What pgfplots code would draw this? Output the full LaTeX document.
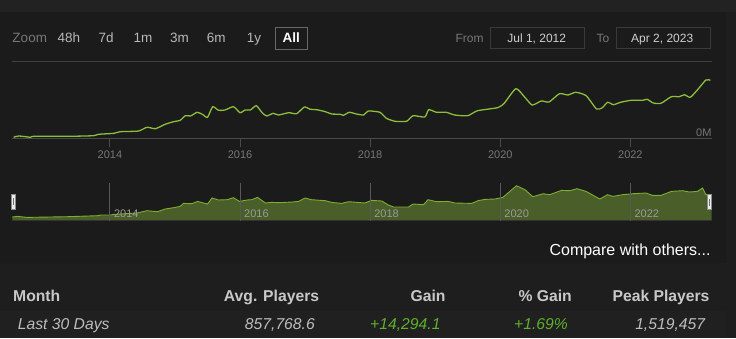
\documentclass[border=0pt]{standalone}
\usepackage{pgfplots}
\pgfplotsset{compat=1.18}
\usepackage{pgfplotstable}
\usepackage{fontspec}
\setmainfont{Liberation Sans}
\definecolor{outerbg}{HTML}{1E1E1E}
\definecolor{topbg}{HTML}{222222}
\definecolor{panelbg}{HTML}{1B1B1B}
\definecolor{tablebg}{HTML}{1E1E1E}
\definecolor{rowbg}{HTML}{202020}
\definecolor{gridc}{HTML}{404040}
\definecolor{axisc}{HTML}{4A4A4A}
\definecolor{labelc}{HTML}{777777}
\definecolor{btnc}{HTML}{B8B8B8}
\definecolor{linec}{HTML}{8CBE3C}
\definecolor{navfill}{HTML}{4A5E2A}
\definecolor{navline}{HTML}{7CAF30}
\definecolor{navgrid}{HTML}{585858}
\definecolor{navlab}{HTML}{9A9A9A}
\definecolor{headc}{HTML}{C8C8C8}
\definecolor{valc}{HTML}{BDBDBD}
\definecolor{gainc}{HTML}{5DB02C}
\definecolor{boxc}{HTML}{3A3A3A}
\definecolor{allbox}{HTML}{666666}
\definecolor{boxtext}{HTML}{CFCFCF}

\pgfplotstableread{
year players
2012.52 15
2012.60 34
2012.78 15
2012.83 29
2013.35 29
2013.75 38
2013.83 59
2014.06 73
2014.16 97
2014.44 107
2014.57 162
2014.70 141
2014.85 206
2014.98 244
2015.08 264
2015.16 332
2015.24 328
2015.34 382
2015.42 353
2015.50 308
2015.58 464
2015.67 411
2015.77 416
2015.90 464
2016.00 376
2016.08 416
2016.16 416
2016.25 479
2016.34 376
2016.41 328
2016.51 367
2016.59 342
2016.75 376
2016.87 361
2016.99 460
2017.08 426
2017.18 420
2017.31 391
2017.41 357
2017.54 353
2017.59 338
2017.68 382
2017.79 357
2017.90 342
2017.97 401
2018.15 382
2018.25 294
2018.38 250
2018.56 250
2018.66 332
2018.84 313
2018.90 420
2019.02 382
2019.17 382
2019.30 342
2019.50 332
2019.65 405
2019.96 450
2020.06 514
2020.24 729
2020.37 611
2020.49 489
2020.63 548
2020.75 533
2020.91 655
2021.04 636
2021.16 676
2021.32 626
2021.48 430
2021.57 450
2021.65 529
2021.74 494
2021.85 529
2022.01 558
2022.19 558
2022.26 573
2022.35 519
2022.47 514
2022.63 611
2022.75 611
2022.83 640
2022.92 602
2023.03 710
2023.16 856
2023.23 852
}\mainData

\pgfplotstableread{
year level
2012.50 3.7
2012.58 4.3
2012.73 3.3
2013.35 4.0
2013.81 5.0
2013.86 5.7
2014.01 5.7
2014.06 6.3
2014.42 7.7
2014.57 10.0
2014.73 9.0
2014.85 11.7
2014.98 13.0
2015.08 14.3
2015.13 17.3
2015.26 17.0
2015.35 19.3
2015.42 18.0
2015.50 16.7
2015.57 22.7
2015.67 20.7
2015.80 21.0
2015.90 23.0
2015.99 19.3
2016.11 20.7
2016.18 21.0
2016.27 23.3
2016.39 17.7
2016.49 18.3
2016.59 18.0
2016.80 18.7
2016.90 19.3
2017.00 22.7
2017.10 21.0
2017.31 20.0
2017.41 18.3
2017.56 17.3
2017.67 19.0
2017.92 17.7
2018.02 20.3
2018.18 19.7
2018.28 15.7
2018.36 13.7
2018.59 13.7
2018.66 16.7
2018.82 16.0
2018.89 21.0
2019.02 19.0
2019.20 19.3
2019.30 17.7
2019.56 17.3
2019.66 20.0
2019.76 21.3
2019.92 21.7
2020.04 23.3
2020.25 35.0
2020.38 31.0
2020.50 24.0
2020.66 27.0
2020.76 26.0
2020.94 30.3
2021.07 30.0
2021.18 32.0
2021.32 29.3
2021.53 21.7
2021.65 26.0
2021.73 24.3
2021.88 26.0
2022.04 27.0
2022.24 27.7
2022.34 25.3
2022.47 25.3
2022.63 29.3
2022.80 30.0
2022.91 28.7
2023.03 29.3
2023.11 32.7
2023.16 26.0
2023.25 26.0
}\navData

\begin{document}
\begin{tikzpicture}
\useasboundingbox (0pt,0pt) rectangle (736pt,338pt);
\begin{scope}[x=1pt,y=1pt]
% backgrounds
\fill[outerbg] (0,0) rectangle (736,338);
\fill[topbg] (0,338-12) rectangle (736,338);
\fill[panelbg] (0,338-263) rectangle (726,338-12);
\fill[tablebg] (0,0) rectangle (726,338-273);
\fill[rowbg] (0,0) rectangle (726,338-311);

% zoom buttons
\begin{scope}[every node/.style={inner sep=0pt, font=\fontsize{13.5}{16}\selectfont}]
\node[anchor=base west, text=labelc] at (12.3,338-42.5) {Zoom};
\node[anchor=base west, text=btnc] at (57.3,338-42.5) {48h};
\node[anchor=base west, text=btnc] at (98.3,338-42.5) {7d};
\node[anchor=base west, text=btnc] at (133.3,338-42.5) {1m};
\node[anchor=base west, text=btnc] at (170,338-42.5) {3m};
\node[anchor=base west, text=btnc] at (206.7,338-42.5) {6m};
\node[anchor=base west, text=btnc] at (246.7,338-42.5) {1y};
\draw[allbox, line width=0.9pt] (275.3,338-27.3) rectangle (307.3,338-49.3);
\node[anchor=base, text=white, font=\fontsize{13.5}{16}\selectfont\bfseries] at (291.3,338-42.5) {All};
\end{scope}

% date range
\begin{scope}[every node/.style={inner sep=0pt, font=\fontsize{12}{14}\selectfont}]
\node[anchor=base west, text=labelc] at (455.3,338-42.5) {From};
\draw[boxc, line width=0.9pt] (490.3,338-27.3) rectangle (584.7,338-48.3);
\node[anchor=base, text=boxtext] at (536.7,338-42.5) {Jul 1, 2012};
\node[anchor=base west, text=labelc] at (596.3,338-42.5) {To};
\draw[boxc, line width=0.9pt] (616.3,338-27.3) rectangle (710.7,338-48.3);
\node[anchor=base, text=boxtext] at (662.2,338-42.5) {Apr 2, 2023};
\end{scope}
\end{scope}

% main chart
\begin{axis}[
  at={(12.3pt,199.7pt)}, anchor=south west,
  scale only axis, width=699.4pt, height=76.6pt,
  xmin=2012.5, xmax=2023.25, ymin=0, ymax=1125,
  axis line style={draw=none},
  xtick={2014,2016,2018,2020,2022},
  xticklabels={2014,2016,2018,2020,2022},
  xtick pos=left, ytick=\empty,
  tick align=outside, major tick length=9pt,
  xtick style={draw=axisc, line width=0.8pt},
  xticklabel style={font=\fontsize{11}{13}\selectfont, text=labelc, anchor=base, inner sep=0pt, yshift=-11pt},
  clip=false,
]
\draw[gridc, line width=0.8pt] (rel axis cs:0,1) -- (rel axis cs:1,1);
\draw[axisc, line width=0.8pt] (rel axis cs:0,0) -- (rel axis cs:1,0);
\node[anchor=base east, inner sep=0pt, text=labelc, font=\fontsize{11}{13}\selectfont] at (rel axis cs:1,0) [yshift=2.3pt] {0M};
\addplot[linec, line width=1.3pt, smooth, tension=0.35] table[x=year,y=players] {\mainData};
\end{axis}

% navigator
\begin{axis}[
  at={(12.3pt,117.3pt)}, anchor=south west,
  scale only axis, width=699.4pt, height=37.7pt,
  xmin=2012.5, xmax=2023.25, ymin=0, ymax=37.7,
  axis line style={draw=none},
  xtick={2014,2016,2018,2020,2022},
  xticklabels={2014,2016,2018,2020,2022},
  xtick pos=left, ytick=\empty,
  xmajorgrids, grid style={navgrid, line width=0.8pt},
  major tick length=0pt,
  xticklabel style={font=\fontsize{11}{13}\selectfont, text=navlab, anchor=base west, inner sep=0pt, xshift=4pt, yshift=3.4pt},
  axis on top, clip=false,
]
\addplot[fill=navfill, draw=none] table[x=year,y=level] {\navData} \closedcycle;
\addplot[navline, line width=0.9pt] table[x=year,y=level] {\navData};
\draw[black!80!white, line width=1pt] (rel axis cs:0,0) -- (rel axis cs:1,0);
\end{axis}

\begin{scope}[x=1pt,y=1pt]
% navigator handles
\fill[white!92!black, draw=white!55!black, line width=0.6pt] (11.3,338-194) rectangle (15.6,338-209.3);
\draw[white!45!black, line width=0.6pt] (13.45,338-198) -- (13.45,338-205);
\fill[white!92!black, draw=white!55!black, line width=0.6pt] (707.3,338-194.7) rectangle (711.7,338-209.7);
\draw[white!45!black, line width=0.6pt] (709.5,338-198.7) -- (709.5,338-205.7);

% compare link
\node[anchor=base east, inner sep=0pt, text=white, font=\fontsize{16}{19}\selectfont] at (710.7,338-255) {Compare with others...};

% table
\begin{scope}[every node/.style={inner sep=0pt, font=\fontsize{15.7}{18}\selectfont\bfseries, text=headc}]
\node[anchor=base west] at (13,338-301.7) {Month};
\node[anchor=base east] at (319.3,338-301.7) {Avg. Players};
\node[anchor=base east] at (445.7,338-301.7) {Gain};
\node[anchor=base east] at (572,338-301.7) {\% Gain};
\node[anchor=base east] at (709.7,338-301.7) {Peak Players};
\end{scope}
\begin{scope}[every node/.style={inner sep=0pt, font=\fontsize{15.7}{18}\selectfont\itshape, text=valc}]
\node[anchor=base west] at (17.7,338-329.3) {Last 30 Days};
\node[anchor=base east] at (315,338-329.3) {857,768.6};
\node[anchor=base east, text=gainc] at (440.7,338-329.3) {+14,294.1};
\node[anchor=base east, text=gainc] at (568,338-329.3) {+1.69\%};
\node[anchor=base east] at (705.3,338-329.3) {1,519,457};
\end{scope}
\end{scope}
\end{tikzpicture}
\end{document}
